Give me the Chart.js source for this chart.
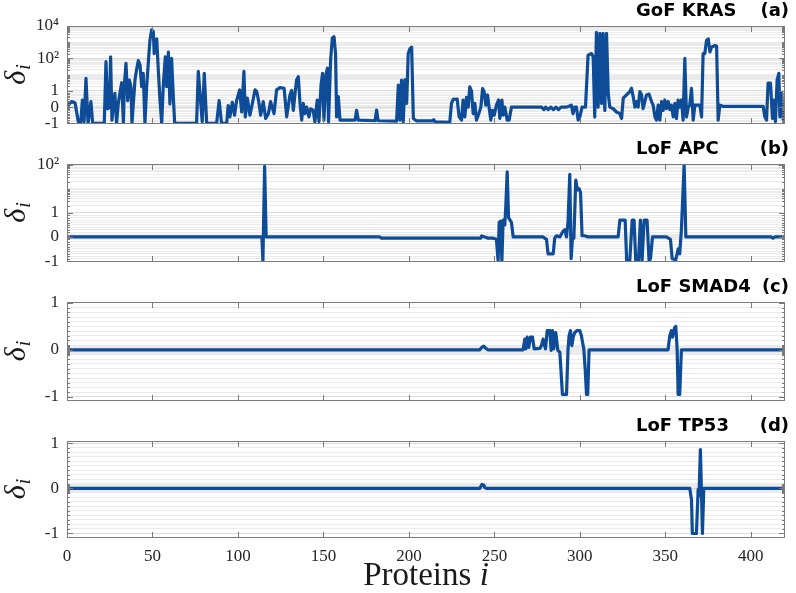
<!DOCTYPE html>
<html>
<head>
<meta charset="utf-8">
<script src="https://cdn.jsdelivr.net/npm/chart.js@4.4.0/dist/chart.umd.min.js"></script>
<style>
  html, body { margin: 0; padding: 0; background: #fff; }
  #wrap { position: relative; width: 796px; height: 593px; overflow: hidden; }
  #wrap canvas { position: absolute; left: 0; }
</style>
</head>
<body>
<div id="wrap">
  <canvas id="pa" width="796" height="136" style="top:0px"></canvas>
  <canvas id="pb" width="796" height="142" style="top:132px"></canvas>
  <canvas id="pc" width="796" height="143" style="top:270px"></canvas>
  <canvas id="pd" width="796" height="184" style="top:409px"></canvas>
</div>
<script>
// x axis
const proteinTicks = [0, 50, 100, 150, 200, 250, 300, 350, 400];

// (a) GoF KRAS - protein index and delta_i
const krasProtein = [
  0, 2.7, 4.7, 6.6, 8, 9, 10, 11.1, 12.3, 14,
  15, 21.8, 22.8, 23.8, 24.8, 25.5, 26.3, 27, 28, 29,
  30, 31, 32, 33, 33.5, 34.5, 35.5, 36.5, 37.4, 38,
  38.8, 39.8, 40.7, 41.7, 42.7, 43.7, 44.6, 45.6, 46.6, 47.8,
  48.5, 49.5, 50.5, 51, 52.5, 53.4, 54.4, 55.4, 56.3, 57.5,
  58.3, 59.3, 60.2, 61.2, 62.2, 63, 75.8, 76.8, 78.2, 79.1,
  80.3, 81.7, 87.5, 89, 90.4, 93.4, 94.3, 95.3, 96.7, 98,
  99.2, 101, 102.2, 103.5, 104.3, 105.5, 107, 108, 110, 111,
  112, 113.3, 114.8, 116.2, 117.8, 119.1, 120.3, 121.1, 122.6, 124.6,
  127, 128.5, 130.4, 131.4, 132.4, 133.4, 134.3, 135.3, 136.3, 137.3,
  138.2, 139.2, 140.2, 141.5, 142.5, 144, 145, 146.4, 147.4, 148.6,
  149.5, 150.3, 151.5, 152.3, 153, 154.2, 155.2, 156.2, 157.1, 157.7,
  158.7, 159.7, 168.5, 169.4, 170.4, 180.2, 181.1, 182, 192.8, 193.8,
  194.8, 195.7, 196.7, 197.7, 198.7, 199.6, 200.6, 201.6, 202.6, 204.5,
  214, 214.5, 215.5, 223.9, 224.9, 225.9, 228.2, 229.4, 230.8, 231.7,
  232.7, 233.7, 234.7, 235.6, 236.6, 237.6, 238.6, 239.5, 240.9, 242.1,
  243.1, 244, 245, 246, 247, 247.9, 248.9, 249.9, 251.2, 252.4,
  253.2, 254.4, 255.1, 256.1, 257.5, 258.6, 260, 277.6, 279, 280,
  281.5, 283, 284.5, 286, 287.5, 289, 292.2, 295, 296, 297,
  298, 299, 300, 301.3, 303.3, 304.8, 306.8, 307.8, 308.7, 309.7,
  310.7, 311.7, 312.7, 313.6, 314.6, 315.6, 316.6, 317.5, 319.5, 321.4,
  323.4, 324.4, 325.4, 327.3, 329.2, 330.2, 331.2, 332.2, 333.1, 334.1,
  335.1, 336.1, 337, 338, 339, 340.5, 341.9, 342.9, 343.9, 344.8,
  345.8, 346.8, 347.8, 348.7, 349.7, 350.7, 351.7, 352.6, 353.6, 354.6,
  355.6, 356.5, 357.5, 358.5, 359.5, 360.4, 361.4, 362.4, 363.4, 364.3,
  365.3, 366.3, 367.3, 370.2, 371.2, 372.1, 373.1, 374.1, 375.1, 376.1,
  377, 379, 380, 380.9, 381.9, 383.8, 407.2, 408.2, 409.2, 410.1,
  411.5, 412.7, 413.5, 414.4, 415.4, 416.4, 417, 418, 419, 420
];
const krasDelta = [
  0.06, 0.34, 0.27, -0.9, -1, 0.44, -0.9, 6, -1, 0.34,
  -1, -1, 63, -0.1, 0, 126, -0.8, 0, 0.85, -1,
  0.23, 0.9, 3.2, -1, 1.8, 50, 0.4, 4.7, 1.8, -1,
  0.23, 5, 20, 74, 40, 1.8, 12, -1, 1.8, 126,
  1260, 5700, 4600, 200, 1600, 20, 0.4, -1, 2, 126,
  1.8, 250, 0.2, 100, 0.6, -1, -1, 16, 0.3, -0.9,
  12, -1, -1, 0.4, -1, -1, 0.1, -0.6, 0.3, -0.5,
  0.4, 1.15, -0.3, 16, -0.6, 0.55, -0.5, 0, 1.15, 0.95,
  0.44, -0.5, 0.34, -0.7, -0.4, 0.34, -0.1, -0.4, 1.15, 1.6,
  1.45, -0.6, 0.75, 1.06, -0.2, 0.85, 4.7, 7.6, 0.23, -0.8,
  0.23, -0.4, 0, -0.6, -0.1, -0.2, -0.9, 0.44, -0.9, 2.3,
  12, -0.8, 10, 25, -0.9, 80, 1800, 2200, 200, -0.6,
  0.65, -0.8, -0.8, -0.2, -0.8, -0.84, -0.18, -0.84, -0.86, 2.3,
  -0.8, 4.7, -0.9, 5, 0.23, 200, 400, 500, -0.7, -0.85,
  -0.85, -0.78, -0.9, -0.94, 0.23, 0.48, 0.5, -0.6, -0.8, 0.44,
  -0.6, 0.6, 0, 1.8, 1, -0.4, 0.23, -0.8, -0.4, 0,
  1.4, 0.95, 0.12, 0.75, -0.1, -0.8, -0.2, -0.5, 0.12, 0.44,
  -0.7, 0.44, -0.5, 0, -0.8, -0.8, 0, 0, -0.15, 0,
  -0.15, 0, -0.15, 0, -0.15, 0, 0, 0.12, -0.4, 0,
  0, -0.8, -0.6, 0, 0, 160, 200, 126, -0.6, 4000,
  0, 3500, 0.23, 3500, -0.2, 3500, 0.85, 0, -0.1, -0.3,
  -0.4, -0.7, 0.55, 0.75, 0.96, 1.45, 0.65, 0, 0.34, 0,
  0.96, 0.75, -0.1, 0.34, 0.75, 0.8, 0.34, 0.12, -0.6, -0.8,
  0.12, -0.8, 0.34, -0.2, 0.44, -0.1, 0.34, -0.15, 0.12, -0.6,
  0.23, -0.7, 0.44, 0, 0.44, -0.8, 100, -0.6, 0, 0.12,
  1.45, -0.8, 0.12, 0.12, -0.6, 200, 200, 1300, 1600, 250,
  500, 630, 560, -0.8, 0.12, 0.05, 0.05, -0.6, -0.8, 3,
  3, -0.7, 0.44, -0.9, 4.7, 12, -0.6, 0.85, -0.8, -0.7
];

// (b) LoF APC
const apcProtein = [
  0, 114, 114.6, 115.6, 116.5, 183, 184, 242, 242.5, 244.4,
  246.4, 249.3, 251.2, 252.2, 252.8, 253.6, 254.4, 255.1, 256.1, 256.7,
  257.5, 258.3, 260, 261, 278.5, 280.5, 281.4, 284.4, 285.3, 286.3,
  288.3, 289.8, 291.2, 292.2, 293.1, 294.1, 294.9, 295.7, 296.5, 297.6,
  298.6, 299.6, 300.4, 301.3, 302.9, 304.8, 322.4, 323.4, 326.5, 327.4,
  329.2, 330.6, 331.7, 332.7, 334.3, 335.4, 336.4, 337.6, 339.3, 340.5,
  341.3, 342.5, 350.6, 353, 354, 356.1, 357.5, 358.4, 359.4, 360.4,
  361, 362, 412, 413, 414, 420
];
const apcDelta = [
  0, 0, -1, 85, 0, 0, -0.05, -0.05, 0.04, 0,
  -0.05, -0.05, -0.1, -1, 0.6, 0.65, -1, 0.7, 0.5, 2,
  50, 0.8, 0.6, 0, 0, -0.1, -0.7, -0.7, -0.05, 0.05,
  0, 0.2, 0.3, 0, 0.65, 40, -0.9, 0, -0.05, 23,
  9, 10, 7, 0.05, 0.05, 0, 0, 0.7, 0.7, -1,
  -1, 0.7, 0.7, -1, -1, 0.7, -1, 0.7, 0.7, -1,
  -0.9, 0, 0, -0.1, -0.9, -0.95, -0.5, -0.7, 0.3, 10,
  100, 0, 0, -0.05, 0, 0
];

// (c) LoF SMAD4
const smadProtein = [
  0, 241.5, 242.5, 243.8, 245, 246.4, 266.8, 267.8, 268.4, 269.2,
  270.1, 271.1, 272.3, 273.3, 276.6, 277.5, 278.5, 279.9, 280.9, 282.4,
  283.2, 284, 284.7, 285.9, 287.1, 288.3, 289.8, 292.2, 293.1, 293.7,
  294.5, 295.3, 296.1, 297, 298.4, 300, 300.9, 302.3, 303.1, 303.9,
  304.6, 305.4, 351.6, 352.6, 353.6, 354.2, 355.5, 356.1, 356.9, 357.5,
  358.4, 359.4, 420
];
const smadDelta = [
  0, 0, 0.05, 0.08, 0.03, 0, 0, 0.23, 0.02, 0.27,
  0.05, 0.27, 0.27, 0.02, 0.03, 0.09, 0.23, 0.02, 0.41, 0.41,
  -0.01, 0.41, 0.02, 0.37, -0.01, -0.05, -0.95, -0.95, 0.02, 0.3,
  0.41, 0.09, 0.27, 0.37, 0.41, 0.41, 0.3, 0.02, -0.4, -0.95,
  -0.95, 0, 0, 0.3, 0.41, 0.27, 0.48, 0.5, 0.02, -0.95,
  -0.95, 0, 0
];

// (d) LoF TP53
const tp53Protein = [
  0, 241.5, 242.8, 243.8, 244.4, 245.4, 364.3, 365.3, 365.8, 368.2,
  369.2, 369.7, 370.5, 371.1, 371.7, 372.5, 420
];
const tp53Delta = [
  0, 0, 0.09, 0.07, 0.02, 0, 0, -0.25, -1, -1,
  -0.02, -0.17, 0.86, -0.02, -1, 0, 0
];

const panelNames = ['GoF KRAS', 'LoF APC', 'LoF SMAD4', 'LoF TP53'];
const panelTags = ['(a)', '(b)', '(c)', '(d)'];
const majorKras = [-1, 0, 1, 100, 10000];
const majorApc = [-1, 0, 1, 100];
const majorLinear = [-1, 0, 1];

const SERIF = '"Liberation Serif", "DejaVu Serif", serif';
const SANS = '"DejaVu Sans", sans-serif';
const LINE_COLOR = '#0f4c97';
const FRAME_COLOR = '#7a7a7a';

// linear between -1 and 1, one unit per decade above 1
function symlog(v) {
  return Math.abs(v) <= 1 ? v : Math.sign(v) * (1 + Math.log10(Math.abs(v)));
}

const supDigits = { 2: '\u00B2', 3: '\u00B3', 4: '\u2074' };
function majorLabel(v) {
  if (Math.abs(v) <= 1) return String(v);
  return '10' + supDigits[Math.round(Math.log10(v))];
}

function minorPositions(lo, hi, majors) {
  const out = [];
  [0.01, 0.1].forEach(d => {
    for (let k = 1; k < 10; k++) out.push(k * d, -k * d);
  });
  for (let d = 1; d < 1e4; d *= 10) {
    for (let k = 1; k < 10; k++) out.push(symlog(k * d));
  }
  return out.filter(t => t > lo && t < hi && !majors.some(m => Math.abs(m - t) < 1e-9));
}

const panels = [
  { id: 'pa', protein: krasProtein, delta: krasDelta, majors: majorKras, min: -1.04, max: 5, padTop: 26, xH: 12, last: false },
  { id: 'pb', protein: apcProtein, delta: apcDelta, majors: majorApc, min: -1.04, max: 3.03, padTop: 32, xH: 12, last: false },
  { id: 'pc', protein: smadProtein, delta: smadDelta, majors: majorLinear, min: -1.09, max: 1.02, padTop: 32, xH: 12, last: false },
  { id: 'pd', protein: tp53Protein, delta: tp53Delta, majors: majorLinear, min: -1.1, max: 1.05, padTop: 32, xH: 55, last: true }
];

function noPadding(s) {
  s.paddingTop = 0; s.paddingBottom = 0; s.paddingLeft = 0; s.paddingRight = 0;
}

function makeDecor(p, idx, majorT, minorT) {
  return {
    id: 'decor' + idx,
    afterDatasetsDraw(chart) {
      const { ctx, chartArea: a, scales: { x, y } } = chart;
      ctx.save();
      ctx.strokeStyle = FRAME_COLOR;
      ctx.lineWidth = 1;
      ctx.beginPath();
      proteinTicks.forEach(v => {
        const px = Math.round(x.getPixelForValue(v)) + 0.5;
        ctx.moveTo(px, a.top); ctx.lineTo(px, a.top + 6);
        ctx.moveTo(px, a.bottom); ctx.lineTo(px, a.bottom - 6);
      });
      majorT.forEach(t => {
        const py = Math.round(y.getPixelForValue(t)) + 0.5;
        ctx.moveTo(a.left, py); ctx.lineTo(a.left + 6, py);
        ctx.moveTo(a.right, py); ctx.lineTo(a.right - 6, py);
      });
      minorT.forEach(t => {
        const py = Math.round(y.getPixelForValue(t)) + 0.5;
        ctx.moveTo(a.left, py); ctx.lineTo(a.left + 3, py);
        ctx.moveTo(a.right, py); ctx.lineTo(a.right - 3, py);
      });
      ctx.stroke();
      ctx.strokeRect(Math.round(a.left) + 0.5, Math.round(a.top) + 0.5,
        Math.round(a.right - a.left) - 1, Math.round(a.bottom - a.top) - 1);

      // panel title
      ctx.fillStyle = '#000';
      ctx.font = 'bold 18px ' + SANS;
      ctx.textBaseline = 'alphabetic';
      ctx.textAlign = 'left';
      ctx.fillText(panelNames[idx], 636, a.top - 10);
      ctx.textAlign = 'right';
      ctx.fillText(panelTags[idx], 789, a.top - 10);

      // y label delta_i, rotated
      ctx.save();
      ctx.translate(25, (a.top + a.bottom) / 2);
      ctx.rotate(-Math.PI / 2);
      ctx.textAlign = 'left';
      ctx.fillStyle = '#1a1a1a';
      ctx.font = 'italic 30px ' + SERIF;
      const w1 = ctx.measureText('\u03B4').width;
      ctx.font = 'italic 20px ' + SERIF;
      const w2 = ctx.measureText('i').width;
      const x0 = -(w1 + w2) / 2;
      ctx.font = 'italic 30px ' + SERIF;
      ctx.fillText('\u03B4', x0, 0);
      ctx.font = 'italic 20px ' + SERIF;
      ctx.fillText('i', x0 + w1 + 1, 5);
      ctx.restore();

      if (p.last) {
        ctx.fillStyle = '#1a1a1a';
        ctx.textAlign = 'left';
        ctx.font = '33px ' + SERIF;
        const t1 = 'Proteins ';
        const wa = ctx.measureText(t1).width;
        ctx.font = 'italic 33px ' + SERIF;
        const wb = ctx.measureText('i').width;
        const cx = (a.left + a.right) / 2;
        const sx = cx - (wa + wb) / 2;
        const base = 585 - 409;
        ctx.font = '33px ' + SERIF;
        ctx.fillText(t1, sx, base);
        ctx.font = 'italic 33px ' + SERIF;
        ctx.fillText('i', sx + wa, base);
      }
      ctx.restore();
    }
  };
}

panels.forEach((p, idx) => {
  const majorT = p.majors.map(symlog);
  const minorT = minorPositions(p.min, p.max, majorT);
  const allT = majorT.concat(minorT).sort((m, n) => m - n);
  const points = p.protein.map((v, i) => ({ x: v, y: symlog(p.delta[i]) }));

  new Chart(document.getElementById(p.id), {
    type: 'line',
    data: {
      datasets: [{
        data: points,
        borderColor: LINE_COLOR,
        borderWidth: 3.2,
        borderJoinStyle: 'round',
        pointRadius: 0,
        tension: 0,
        fill: false
      }]
    },
    options: {
      responsive: false,
      animation: false,
      events: [],
      layout: { padding: { top: p.padTop, right: 11, bottom: 0, left: 0 } },
      plugins: { legend: { display: false }, tooltip: { enabled: false } },
      scales: {
        x: {
          type: 'linear',
          min: 0,
          max: 420,
          afterBuildTicks: s => { s.ticks = proteinTicks.map(v => ({ value: v })); },
          afterFit: s => { s.height = p.xH; noPadding(s); },
          grid: { display: false, drawTicks: false },
          border: { display: false },
          ticks: {
            display: p.last,
            autoSkip: false,
            maxRotation: 0,
            padding: 8,
            color: '#262626',
            font: { family: SERIF, size: 17 },
            callback: v => String(v)
          }
        },
        y: {
          type: 'linear',
          min: p.min,
          max: p.max,
          afterBuildTicks: s => { s.ticks = allT.map(v => ({ value: v })); },
          afterFit: s => { s.width = 67; noPadding(s); },
          border: { display: false },
          grid: {
            drawTicks: false,
            lineWidth: 1,
            color: c => {
              const v = c.tick ? c.tick.value : 0;
              return majorT.some(m => Math.abs(m - v) < 1e-9) ? '#dadada' : '#ebebeb';
            }
          },
          ticks: {
            autoSkip: false,
            padding: 8,
            color: '#262626',
            font: { family: SERIF, size: 17 },
            callback: v => {
              const i = majorT.findIndex(m => Math.abs(m - v) < 1e-9);
              return i < 0 ? '' : majorLabel(p.majors[i]);
            }
          }
        }
      }
    },
    plugins: [makeDecor(p, idx, majorT, minorT)]
  });
});
</script>
</body>
</html>
